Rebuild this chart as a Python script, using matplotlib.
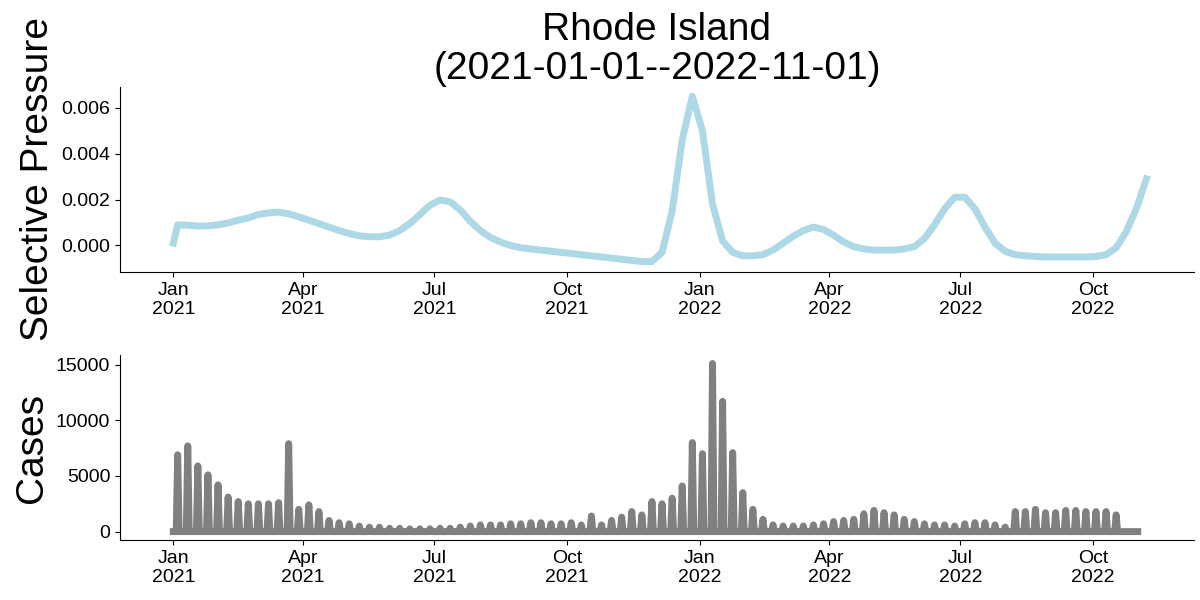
import numpy as np
import pandas as pd
import matplotlib
matplotlib.use("Agg")
import matplotlib.pyplot as plt
import matplotlib.dates as mdates

plt.rcParams['font.family'] = ['Liberation Sans', 'DejaVu Sans']

# selective pressure, weekly samples (x 1e-3), starting 2021-01-04
sp_start = [0.1]
sp_weekly = [0.9, 0.88, 0.85, 0.85, 0.9, 0.98, 1.1, 1.2, 1.35, 1.42, 1.45, 1.38, 1.25,
             1.1, 0.95, 0.8, 0.65, 0.52, 0.42, 0.38, 0.38, 0.45, 0.65, 0.95, 1.35, 1.75,
             1.98, 1.9, 1.55, 1.05, 0.65, 0.35, 0.15, 0.0, -0.1, -0.15, -0.2, -0.25, -0.3,
             -0.35, -0.4, -0.45, -0.5, -0.55, -0.6, -0.65, -0.7, -0.7, -0.3, 1.5, 4.6, 6.5,
             5.0, 1.8, 0.2, -0.3, -0.45, -0.45, -0.4, -0.2, 0.1, 0.4, 0.65, 0.8, 0.7, 0.45,
             0.15, -0.05, -0.15, -0.2, -0.2, -0.2, -0.15, -0.05, 0.3, 0.9, 1.6, 2.1, 2.1,
             1.6, 0.8, 0.1, -0.25, -0.4, -0.45, -0.48, -0.5, -0.5, -0.5, -0.5, -0.5, -0.48,
             -0.4, -0.1, 0.6, 1.6, 2.9]

# weekly reported cases, starting 2021-01-04
cases_weekly = [6900, 7700, 5900, 5100, 4200, 3100, 2700, 2500, 2500, 2500, 2600, 7900,
                2000, 2400, 1800, 1000, 800, 700, 500, 400, 400, 300, 300, 250, 250,
                250, 300, 300, 400, 500, 600, 600, 600, 700, 700, 800, 800, 700, 700, 800,
                600, 1400, 600, 1000, 1300, 1800, 1500, 2700, 2500, 3000, 4100, 8000, 7000,
                15100, 11700, 7100, 3500, 2000, 1100, 600, 500, 500, 500, 600, 700, 900,
                1000, 1100, 1600, 1900, 1700, 1500, 1100, 900, 700, 600, 600, 500, 700,
                800, 800, 600, 400, 1800, 1800, 2000, 1700, 1700, 1900, 1900, 1800, 1800,
                1800, 1500, 0]

sp_dates = pd.DatetimeIndex([pd.Timestamp("2021-01-01")]).append(
    pd.date_range("2021-01-04", periods=len(sp_weekly), freq="7D"))
sp_vals = np.array(sp_start + sp_weekly) / 1000.0

days = pd.date_range("2021-01-01", "2022-11-01", freq="D")
cases = pd.Series(0.0, index=days)
wk = pd.date_range("2021-01-04", periods=len(cases_weekly), freq="7D")
for d, v in zip(wk, cases_weekly):
    if d in cases.index:
        cases[d] = v

fig, (ax1, ax2) = plt.subplots(2, 1, figsize=(12, 6), dpi=100)
ax1.plot(sp_dates, sp_vals, color='lightblue', lw=5)
ax1.set_title("Rhode Island\n(2021-01-01--2022-11-01)", fontsize=28, linespacing=1.1)
ax1.set_ylabel("Selective Pressure", fontsize=28)
ax2.plot(cases.index, cases.values, color='gray', lw=5)
ax2.set_ylabel("Cases", fontsize=28)

for ax in (ax1, ax2):
    ax.spines['top'].set_visible(False)
    ax.spines['right'].set_visible(False)
    ax.xaxis.set_major_locator(mdates.MonthLocator(bymonth=[1, 4, 7, 10]))
    ax.xaxis.set_major_formatter(mdates.DateFormatter('%b\n%Y'))
    ax.tick_params(labelsize=14)
    ax.set_xlim(pd.Timestamp("2020-11-25"), pd.Timestamp("2022-12-10"))
ax1.set_yticks([0, 0.002, 0.004, 0.006])
ax1.set_yticklabels(["0.000", "0.002", "0.004", "0.006"])
ax1.set_ylim(-0.00115, 0.0069)
ax2.set_yticks([0, 5000, 10000, 15000])

fig.subplots_adjust(left=0.1, right=0.995, top=0.855, bottom=0.1, hspace=0.45)
fig.savefig("out.png")
